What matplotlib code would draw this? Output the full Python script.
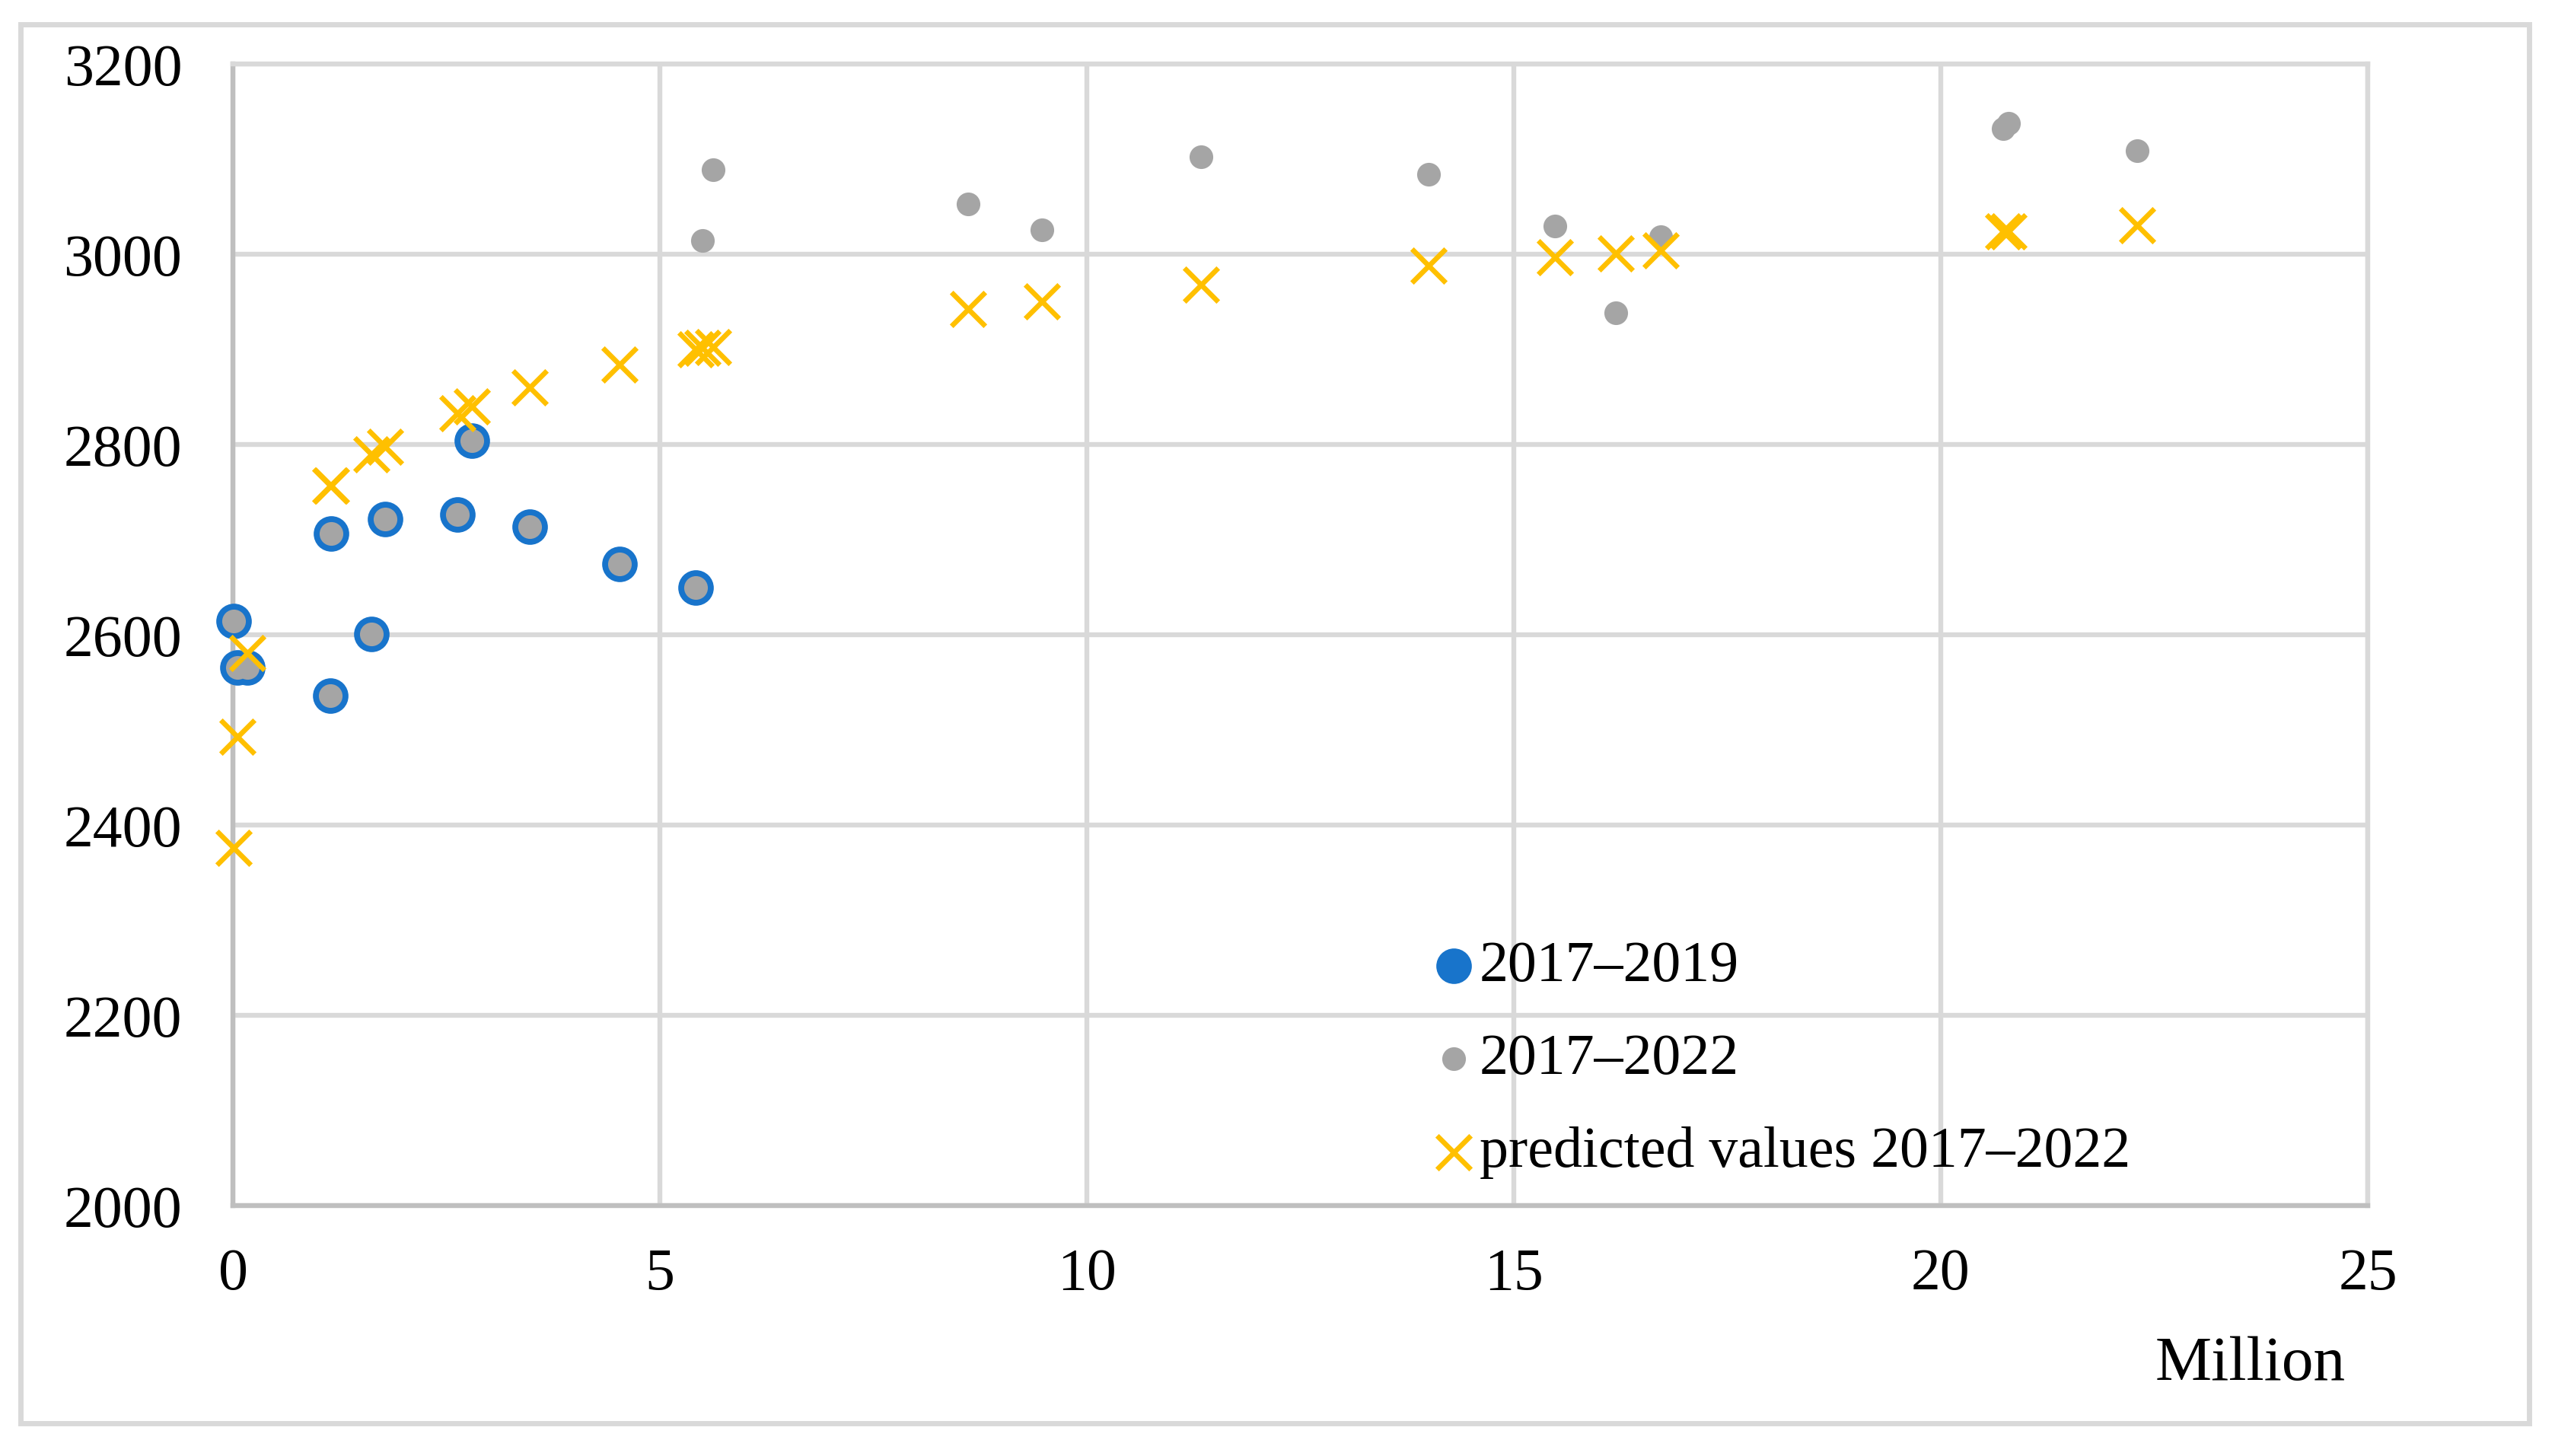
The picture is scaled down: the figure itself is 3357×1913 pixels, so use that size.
import numpy as np
import matplotlib.pyplot as plt
from matplotlib.patches import Rectangle

plt.rcParams['font.family'] = ['Liberation Serif', 'DejaVu Serif']

# 2017-2019 observations (x in million, y value)
x_1719 = [0.01, 0.05, 0.17, 1.14, 1.15, 1.62, 1.78, 2.63, 2.80, 3.48, 4.53, 5.42]
y_1719 = [2615, 2566, 2566, 2536, 2707, 2601, 2722, 2727, 2804, 2714, 2675, 2650]

# extra observations that only belong to 2017-2022
x_extra = [5.50, 5.62, 8.61, 9.47, 11.34, 14.00, 15.48, 16.19, 16.72, 20.73, 20.79, 22.30]
y_extra = [3015, 3089, 3053, 3026, 3103, 3084, 3030, 2939, 3019, 3132, 3138, 3109]

x_1722 = x_1719 + x_extra
y_1722 = y_1719 + y_extra

# predicted values 2017-2022, same x as x_1722
y_pred = [2376, 2493, 2581, 2757, 2757, 2790, 2798, 2833, 2840, 2860, 2884, 2900,
          2902, 2903, 2943, 2951, 2968, 2988, 2997, 3001, 3004, 3024, 3024, 3031]

xticks = [0, 5, 10, 15, 20, 25]
yticks = [2000, 2200, 2400, 2600, 2800, 3000, 3200]

W, H = 3357, 1913
dpi = 200
fig = plt.figure(figsize=(W / dpi, H / dpi), dpi=dpi)

# outer chart border
fig.patches.append(Rectangle((27 / W, 1 - 1870 / H), (3323 - 27) / W, (1870 - 32) / H,
                             transform=fig.transFigure, fill=False,
                             edgecolor='#d9d9d9', linewidth=2.5))

ax = fig.add_axes([306 / W, 1 - 1584.3 / H, (3111 - 306) / W, 1500 / H])

ax.scatter(x_1719, y_1719, s=16.8 ** 2, color='#1874cb', linewidths=0,
           zorder=3, clip_on=False, label='2017–2019')
ax.scatter(x_1722, y_1722, s=11.2 ** 2, color='#a5a5a5', linewidths=0,
           zorder=4, clip_on=False, label='2017–2022')
ax.scatter(x_1722, y_pred, s=16 ** 2, marker='x', color='#ffc000', linewidths=2.4,
           zorder=5, clip_on=False, label='predicted values 2017–2022')

ax.set_xlim(0, 25)
ax.set_ylim(2000, 3200)
ax.set_xticks(xticks)
ax.set_yticks(yticks)
ax.grid(True, color='#d9d9d9', linewidth=2.3, zorder=0)
ax.set_axisbelow(True)

for side in ['left', 'bottom']:
    ax.spines[side].set_color('#bfbfbf')
    ax.spines[side].set_linewidth(2.3)
for side in ['top', 'right']:
    ax.spines[side].set_color('#d9d9d9')
    ax.spines[side].set_linewidth(2.3)

ax.tick_params(axis='both', length=0, labelsize=28, colors='black')
ax.tick_params(axis='x', pad=20)
ax.tick_params(axis='y', pad=24)

fig.text(3082 / W, 1 - 1813 / H, 'Million', fontsize=30, ha='right', va='baseline')

leg = ax.legend(loc='upper left', bbox_to_anchor=(1886 / W, 1 - 1236 / H),
                bbox_transform=fig.transFigure, frameon=False, fontsize=27.3,
                borderpad=0, borderaxespad=0, handlelength=0.64,
                handletextpad=0.12, labelspacing=0.7, scatterpoints=1)

fig.savefig('out.png', dpi=dpi)
